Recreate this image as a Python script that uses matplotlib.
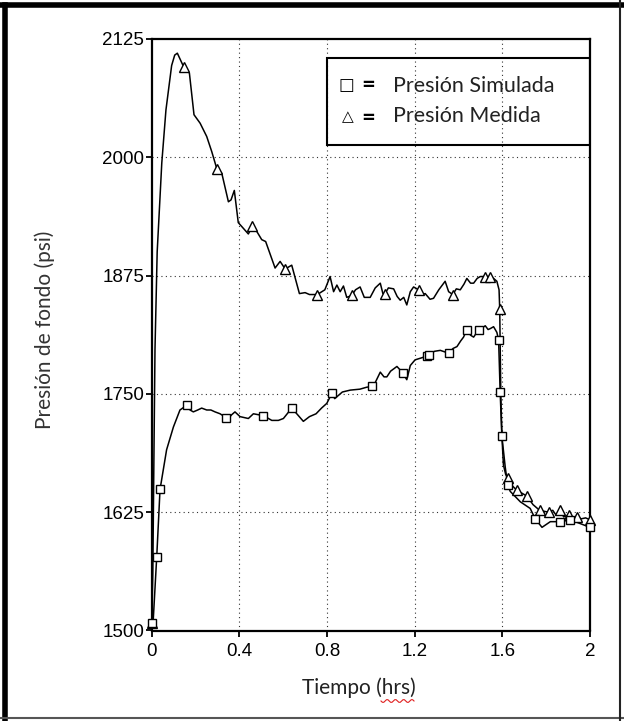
import matplotlib
matplotlib.use('Agg')
import matplotlib.pyplot as plt
from matplotlib.patches import Rectangle
from matplotlib.lines import Line2D
import numpy as np

# ---------------- data ----------------
meas_t = [0.0, 0.005, 0.010, 0.015, 0.025, 0.038, 0.046, 0.065, 0.091, 0.105, 0.117,
          0.147, 0.172, 0.193, 0.221, 0.251, 0.274, 0.297, 0.320, 0.350, 0.362,
          0.377, 0.395, 0.441, 0.459, 0.476, 0.502, 0.520, 0.563, 0.586, 0.609,
          0.639, 0.674, 0.700, 0.720, 0.756, 0.790, 0.814, 0.830, 0.845, 0.860,
          0.875, 0.890, 0.913, 0.930, 0.951, 0.970, 0.997, 1.020, 1.043, 1.055,
          1.065, 1.080, 1.104, 1.120, 1.134, 1.150, 1.164, 1.180, 1.195, 1.218,
          1.235, 1.248, 1.270, 1.286, 1.310, 1.339, 1.355, 1.374, 1.390, 1.408,
          1.425, 1.438, 1.455, 1.469, 1.485, 1.499, 1.522, 1.545, 1.560, 1.575,
          1.585, 1.588, 1.593, 1.598, 1.605, 1.615, 1.628, 1.645, 1.667, 1.690,
          1.712, 1.740, 1.770, 1.790, 1.811, 1.830, 1.845, 1.864, 1.880, 1.902,
          1.920, 1.941, 1.960, 1.980, 2.000]
meas_p = [1508, 1560, 1680, 1797, 1900, 1958, 1994, 2050, 2097, 2108, 2110,
          2095, 2089, 2045, 2036, 2022, 2006, 1988, 1983, 1953, 1955,
          1965, 1931, 1919, 1927, 1923, 1913, 1911, 1883, 1890, 1882,
          1886, 1856, 1857, 1855, 1855, 1860, 1874, 1858, 1865, 1858,
          1864, 1852, 1854, 1860, 1863, 1852, 1852, 1862, 1867, 1856,
          1856, 1862, 1861, 1853, 1849, 1852, 1844, 1858, 1863, 1860,
          1855, 1856, 1850, 1851, 1860, 1869, 1858, 1855, 1861, 1860,
          1866, 1872, 1867, 1867, 1872, 1874, 1874, 1874, 1872, 1869,
          1860, 1840, 1750, 1705, 1675, 1665, 1661, 1653, 1648, 1645,
          1642, 1633, 1627, 1626, 1625, 1627, 1622, 1627, 1620, 1622,
          1619, 1620, 1618, 1619, 1617]
meas_mark_t = [0.0, 0.147, 0.297, 0.459, 0.609, 0.756, 0.913, 1.065, 1.218, 1.374,
               1.522, 1.545, 1.588, 1.628, 1.667, 1.712, 1.770, 1.811, 1.864,
               1.902, 1.941, 2.000]
meas_mark_p = [1508, 2095, 1988, 1927, 1882, 1855, 1854, 1856, 1860, 1855,
               1874, 1874, 1840, 1661, 1648, 1642, 1627, 1625, 1627,
               1622, 1620, 1617]

sim_t = [0.0, 0.007, 0.023, 0.038, 0.068, 0.099, 0.129, 0.160, 0.175, 0.190,
         0.210, 0.228, 0.251, 0.270, 0.289, 0.312, 0.339, 0.350, 0.365, 0.380,
         0.403, 0.441, 0.464, 0.510, 0.548, 0.578, 0.601, 0.639, 0.662, 0.692,
         0.720, 0.750, 0.775, 0.799, 0.810, 0.822, 0.835, 0.845, 0.870, 0.906,
         0.950, 0.980, 1.005, 1.020, 1.043, 1.060, 1.073, 1.090, 1.119, 1.135,
         1.146, 1.164, 1.180, 1.202, 1.230, 1.256, 1.265, 1.290, 1.317, 1.355,
         1.375, 1.393, 1.410, 1.423, 1.438, 1.455, 1.469, 1.492, 1.510, 1.522,
         1.535, 1.545, 1.560, 1.575, 1.583, 1.590, 1.598, 1.613, 1.624, 1.636,
         1.682, 1.727, 1.750, 1.781, 1.819, 1.864, 1.910, 1.955, 2.000]
sim_p = [1508, 1511, 1578, 1649, 1691, 1715, 1733, 1738, 1733, 1731,
         1733, 1735, 1733, 1733, 1731, 1729, 1725, 1724, 1728, 1731,
         1726, 1724, 1729, 1727, 1722, 1722, 1724, 1735, 1729, 1721,
         1726, 1729, 1735, 1740, 1745, 1751, 1745, 1747, 1752, 1754,
         1755, 1757, 1758, 1762, 1773, 1768, 1768, 1774, 1779, 1775,
         1772, 1765, 1780, 1786, 1788, 1790, 1791, 1795, 1796, 1793,
         1798, 1800, 1806, 1810, 1818, 1812, 1810, 1818, 1820, 1822,
         1818, 1819, 1821, 1815, 1807, 1752, 1705, 1673, 1654, 1647,
         1636, 1629, 1618, 1609, 1615, 1615, 1617, 1613, 1609]
sim_mark_t = [0.0, 0.023, 0.038, 0.160, 0.339, 0.510, 0.639, 0.822, 1.005, 1.146,
              1.256, 1.265, 1.355, 1.438, 1.492, 1.583, 1.590, 1.598, 1.624,
              1.750, 1.864, 1.910, 2.000]
sim_mark_p = [1508, 1578, 1649, 1738, 1725, 1727, 1735, 1751, 1758, 1772,
              1790, 1791, 1793, 1818, 1818, 1807, 1752, 1705, 1654,
              1618, 1615, 1617, 1609]

x_ticks = [0, 0.4, 0.8, 1.2, 1.6, 2]
x_tick_labels = ['0', '0.4', '0.8', '1.2', '1.6', '2']
y_ticks = [1500, 1625, 1750, 1875, 2000, 2125]
y_tick_labels = ['1500', '1625', '1750', '1875', '2000', '2125']

x_label = 'Tiempo (hrs)'
y_label = 'Presión de fondo (psi)'
legend_labels = ['Presión Simulada', 'Presión Medida']

# ---------------- figure ----------------
W, H = 624, 721
fig = plt.figure(figsize=(W / 100, H / 100), dpi=100)
ax = fig.add_axes([151.7 / W, 1 - 630.5 / H, (590 - 151.7) / W, (630.5 - 39) / H])

ax.set_xlim(0, 2)
ax.set_ylim(1500, 2125)

grid_kw = dict(color='#333333', lw=0.8, ls=(0, (1, 3)), zorder=1)
for xv in x_ticks[1:-1]:
    ax.axvline(xv, **grid_kw)
for yv in y_ticks[1:-1]:
    ax.axhline(yv, **grid_kw)

ax.plot(meas_t, meas_p, color='black', lw=1.1, zorder=3)
ax.plot(sim_t, sim_p, color='black', lw=1.1, zorder=3)
ax.plot(meas_mark_t, meas_mark_p, ls='none', marker='^', ms=6.5, mfc='white',
        mec='black', mew=1.0, zorder=4, clip_on=False)
ax.plot(sim_mark_t, sim_mark_p, ls='none', marker='s', ms=6.0, mfc='white',
        mec='black', mew=1.0, zorder=4, clip_on=False)

ax.set_xticks(x_ticks)
ax.set_xticklabels(x_tick_labels)
ax.set_yticks(y_ticks)
ax.set_yticklabels(y_tick_labels)
ax.tick_params(direction='out', length=4, width=1.3, colors='black', labelsize=13.5)
ax.tick_params(axis='x', pad=5)
ax.tick_params(axis='y', pad=1.5)
for lab in ax.get_xticklabels() + ax.get_yticklabels():
    lab.set_fontfamily('Liberation Sans')
    lab.set_color('black')
for s in ax.spines.values():
    s.set_linewidth(1.6)

# legend box (text-style legend of the original)
ax.add_patch(Rectangle((0.8, 2013), 1.2, 92, fill=False, lw=1.5,
                       edgecolor='black', zorder=5))
ax.text(0.89, 2076, '□', fontsize=12, family='DejaVu Sans', ha='center',
        va='center', zorder=6)
ax.text(0.895, 2043, '△', fontsize=11, family='DejaVu Sans', ha='center',
        va='center', zorder=6)
ax.text(0.99, 2076, '=', fontsize=12, family='DejaVu Sans', ha='center',
        va='center', zorder=6, fontweight='bold')
ax.text(0.99, 2041, '=', fontsize=12, family='DejaVu Sans', ha='center',
        va='center', zorder=6, fontweight='bold')
ax.text(1.103, 2075, legend_labels[0], fontsize=15.5, family='Lato',
        color='#222222', ha='left', va='center', zorder=6)
ax.text(1.103, 2044, legend_labels[1], fontsize=15.5, family='Lato',
        color='#222222', ha='left', va='center', zorder=6)

fig.text(359 / W, 1 - 688 / H, x_label, fontsize=15, family='Lato',
         color='#222222', ha='center', va='center')
fig.text(45 / W, 1 - 330 / H, y_label, fontsize=15, family='Lato',
         color='#333333', ha='center', va='center', rotation=90)

# red spell-check underline under "hrs"
wx = np.linspace(381, 414, 25)
wy = 701 + 1.5 * np.sin((wx - 381) / 33 * 2 * np.pi * 4)
fig.add_artist(Line2D(wx / W, 1 - wy / H, color='#e02020', lw=0.8))

# outer frame of the picture
fig.add_artist(Line2D([5 / W, 5 / W], [0, 1 - 5 / H], color='black', lw=4))
fig.add_artist(Line2D([0, 1], [1 - 5 / H, 1 - 5 / H], color='black', lw=4))
fig.add_artist(Line2D([0, 1], [1 - 718 / H, 1 - 718 / H], color='#555555', lw=1.5))
fig.add_artist(Line2D([620 / W, 620 / W], [0, 1], color='#222222', lw=1.5))

fig.savefig('out.png', dpi=100)
